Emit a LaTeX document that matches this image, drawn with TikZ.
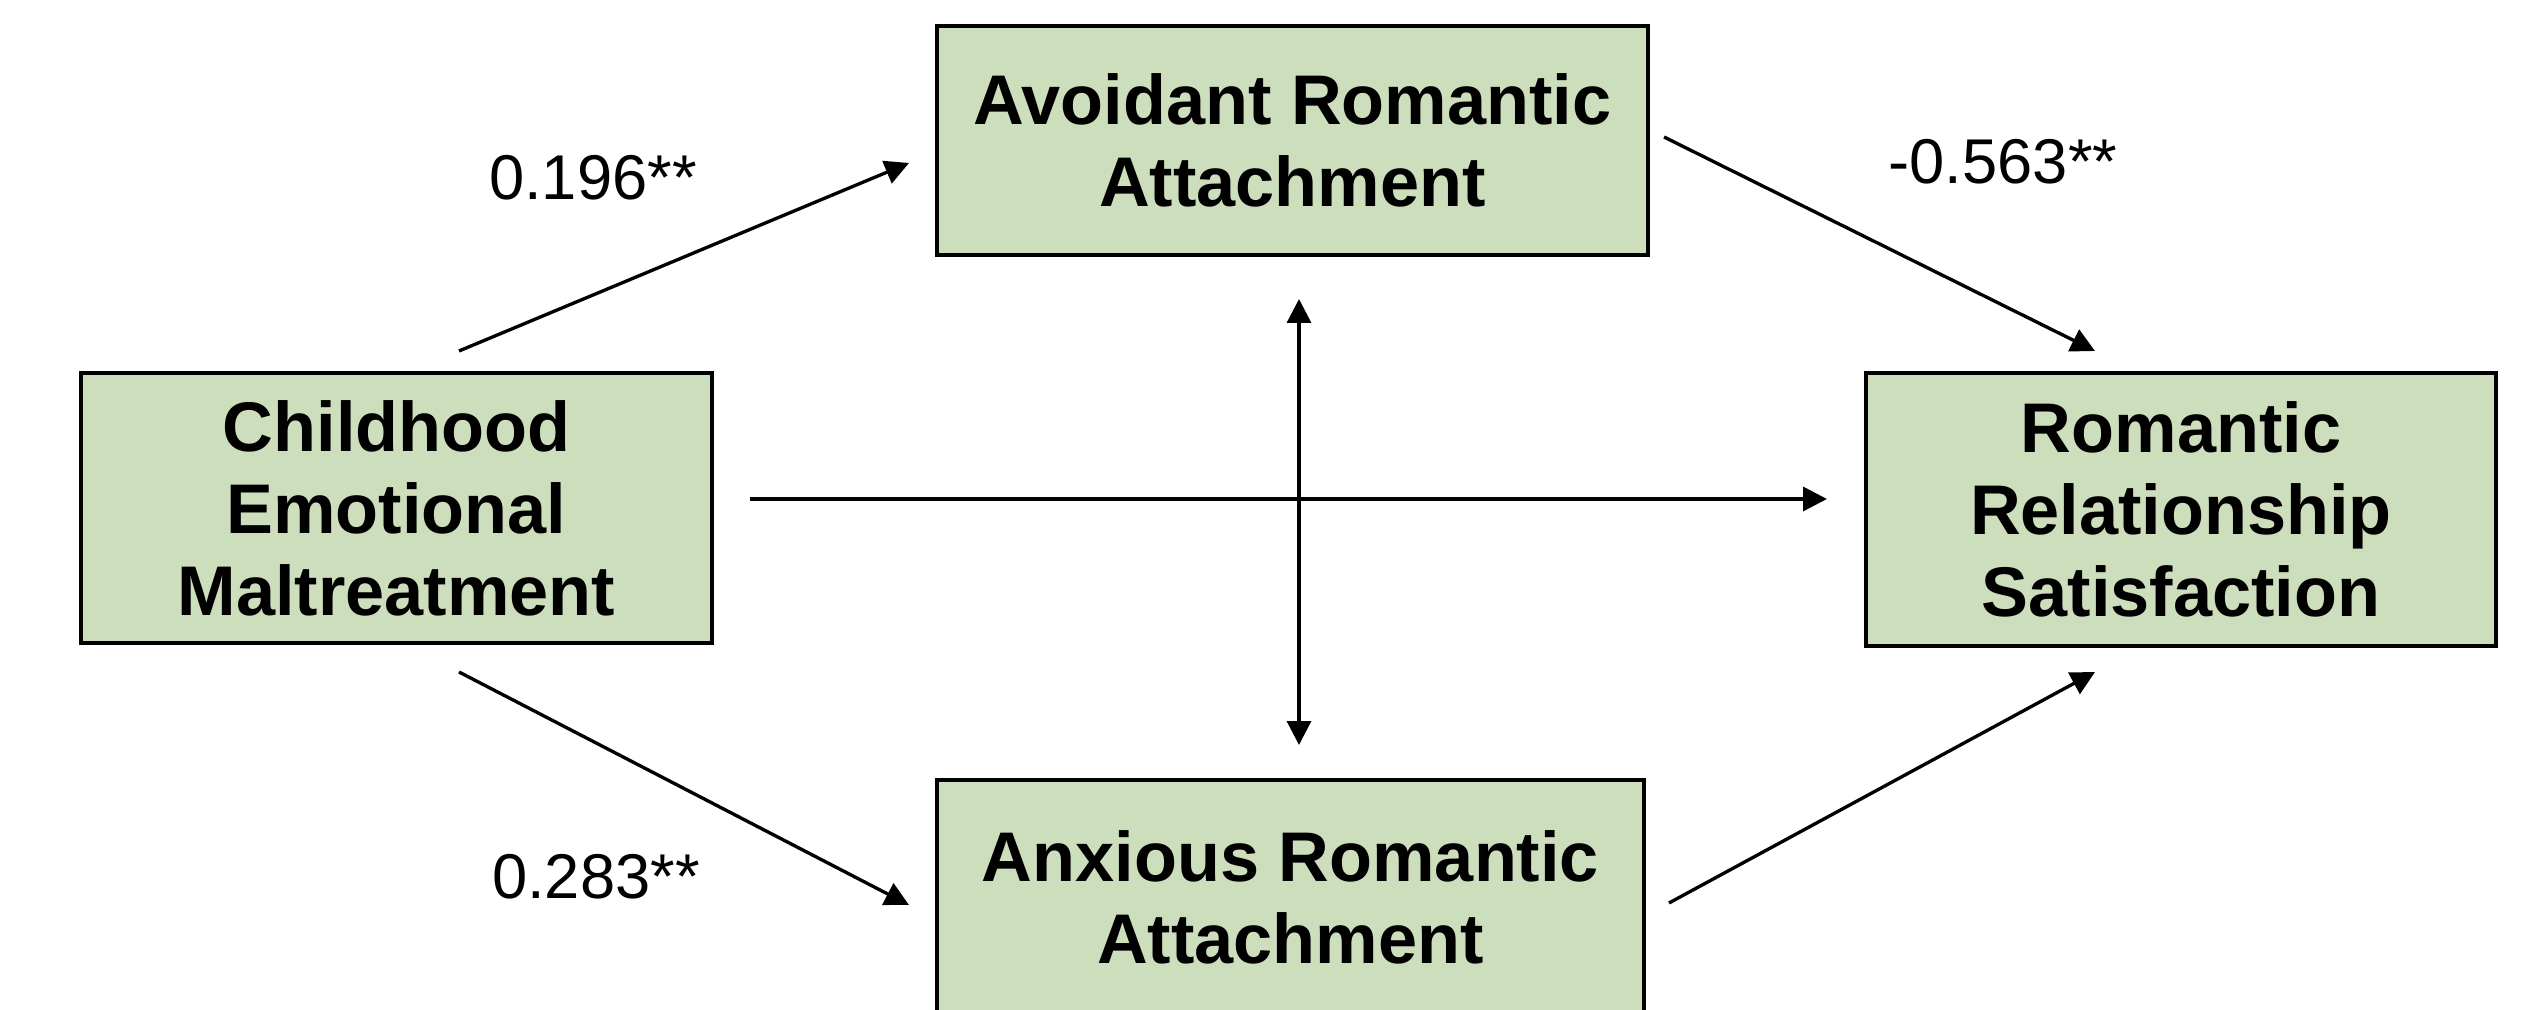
\documentclass[tikz,border=0pt]{standalone}
\usepackage{fontspec}
\setmainfont{Liberation Sans}
\usepackage{xcolor}
\usepackage{tikz}
\usetikzlibrary{shapes,arrows.meta,positioning}
\definecolor{boxgreen}{RGB}{205,222,189}

\begin{document}
\begin{tikzpicture}[
    var/.style={draw=black, line width=1.2pt, fill=boxgreen, align=center,
        font=\fontsize{20}{23.3}\selectfont\bfseries, inner sep=0pt},
    path/.style={line width=0.95pt, -{Triangle[length=6.8pt,width=6.8pt]}},
    coef/.style={font=\fontsize{18}{21}\selectfont}
]
    \useasboundingbox (0,0) rectangle (25.33,10.10);

    % Variables
    \node[var, minimum width=6.31cm, minimum height=2.70cm] (cem) at (3.965,5.02)
        {Childhood\\Emotional\\Maltreatment};
    \node[var, minimum width=7.11cm, minimum height=2.29cm] (avoid) at (12.925,8.695)
        {Avoidant Romantic\\Attachment};
    \node[var, minimum width=7.07cm, minimum height=2.35cm] (anx) at (12.905,1.125)
        {Anxious Romantic\\Attachment};
    \node[var, minimum width=6.30cm, minimum height=2.73cm] (rrs) at (21.81,5.005)
        {Romantic\\Relationship\\Satisfaction};

    % Arrow ends
    \coordinate (cemTop) at (4.59,6.59);
    \coordinate (avoidIn) at (9.09,8.47);
    \coordinate (cemBot) at (4.59,3.38);
    \coordinate (anxIn) at (9.09,1.05);
    \coordinate (avoidOut) at (16.64,8.73);
    \coordinate (rrsTop) at (20.95,6.59);
    \coordinate (anxOut) at (16.69,1.07);
    \coordinate (rrsBot) at (20.95,3.38);
    \coordinate (cemRight) at (7.50,5.11);
    \coordinate (rrsLeft) at (18.27,5.11);
    \coordinate (covTop) at (12.99,7.11);
    \coordinate (covBot) at (12.99,2.65);

    % Paths
    \draw[path] (cemTop) -- (avoidIn);
    \draw[path] (cemBot) -- (anxIn);
    \draw[path] (avoidOut) -- (rrsTop);
    \draw[path] (anxOut) -- (rrsBot);
    \draw[path] (cemRight) -- (rrsLeft);
    \draw[path, {Triangle[length=6.8pt,width=6.8pt]}-{Triangle[length=6.8pt,width=6.8pt]}] (covTop) -- (covBot);

    % Coefficients
    \node[coef] (b1) at (5.93,8.32) {0.196**};
    \node[coef] (b2) at (20.03,8.48) {-0.563**};
    \node[coef] (b3) at (5.96,1.33) {0.283**};
\end{tikzpicture}
\end{document}
